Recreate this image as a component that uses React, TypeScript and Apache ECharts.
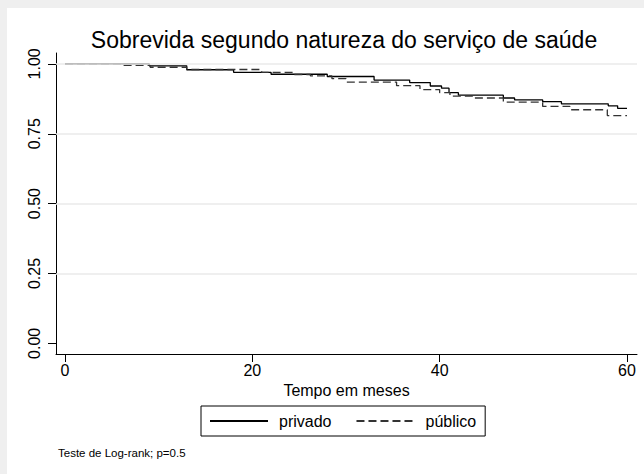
import React, { useEffect, useRef } from "react";
import * as echarts from "echarts";

// Kaplan-Meier step data (time in months, survival)
const privadoTimes = [0, 9.0, 13.0, 18.0, 22.0, 28.0, 33.0, 36.8, 39.0, 40.2, 41.0, 42.0, 46.8, 48.0, 51.0, 53.0, 58.0, 59.0, 60];
const privadoSurv = [1.0, 0.993, 0.979, 0.97, 0.963, 0.955, 0.942, 0.933, 0.921, 0.913, 0.897, 0.888, 0.878, 0.871, 0.865, 0.857, 0.85, 0.841, 0.841];

const publicoTimes = [0, 6.1, 9.1, 13.0, 21.0, 24.4, 26.2, 28.5, 30.0, 35.4, 37.9, 40.0, 41.1, 43.6, 46.8, 51.0, 53.9, 57.9, 60];
const publicoSurv = [1.0, 0.995, 0.988, 0.98, 0.97, 0.962, 0.957, 0.947, 0.935, 0.922, 0.908, 0.897, 0.885, 0.878, 0.863, 0.848, 0.836, 0.815, 0.815];

const xTicks = [0, 20, 40, 60];
const yTicks = [0, 0.25, 0.5, 0.75, 1.0];
const gridValues = [0.25, 0.5, 0.75, 1.0];

const seriesNames = ["privado", "público"];
const titleText = "Sobrevida segundo natureza do serviço de saúde";
const xName = "Tempo em meses";
const noteText = "Teste de Log-rank; p=0.5";

const FONT = "'Liberation Sans', Arial, sans-serif";

export default function App() {
  const ref = useRef<HTMLDivElement>(null);

  useEffect(() => {
    if (!ref.current) return;
    const chart = echarts.init(ref.current, null, { renderer: "svg" });
    const priv = privadoTimes.map((t, i) => [t, privadoSurv[i]]);
    const pub = publicoTimes.map((t, i) => [t, publicoSurv[i]]);

    chart.setOption({
      animation: false,
      textStyle: { fontFamily: FONT },
      grid: { left: 56, right: 7, top: 53, bottom: 120, containLabel: false },
      xAxis: {
        type: "value",
        min: -0.96,
        max: 61.07,
        name: xName,
        nameLocation: "middle",
        nameGap: 27,
        nameTextStyle: { fontSize: 16, color: "#000", fontFamily: FONT },
        axisLine: { show: true, onZero: false, lineStyle: { color: "#000", width: 1 } },
        axisTick: { show: true, length: 8, customValues: xTicks, lineStyle: { color: "#000" } },
        axisLabel: { customValues: xTicks, fontSize: 16, color: "#000", margin: 8, fontFamily: FONT },
        splitLine: { show: false },
      },
      yAxis: {
        type: "value",
        min: -0.038,
        max: 1.039,
        axisLine: { show: true, onZero: false, lineStyle: { color: "#000", width: 1 } },
        axisTick: { show: true, length: 8, customValues: yTicks, lineStyle: { color: "#000" } },
        axisLabel: {
          customValues: yTicks,
          rotate: 90,
          fontSize: 16,
          color: "#000",
          margin: 14,
          fontFamily: FONT,
          formatter: (v: number) => v.toFixed(2),
        },
        splitLine: { show: false },
      },
      legend: {
        data: seriesNames,
        left: 201,
        top: 406,
        orient: "horizontal",
        itemWidth: 58,
        itemHeight: 14,
        itemGap: 24,
        padding: [7, 9, 7, 8],
        borderColor: "#000",
        borderWidth: 1,
        backgroundColor: "#fff",
        itemStyle: { opacity: 0 },
        textStyle: { fontSize: 16, color: "#000", fontFamily: FONT, padding: [0, 0, 0, 6] },
      },
      graphic: [
        {
          type: "text",
          x: 344,
          y: 40,
          style: {
            text: titleText,
            fontSize: 23,
            fill: "#000",
            fontFamily: FONT,
            textAlign: "center",
            textVerticalAlign: "middle",
          },
        },
        {
          type: "text",
          x: 58,
          y: 453,
          style: {
            text: noteText,
            fontSize: 11.5,
            fill: "#000",
            fontFamily: FONT,
            textAlign: "left",
            textVerticalAlign: "middle",
          },
        },
      ],
      series: [
        {
          name: "grid",
          type: "line",
          data: [],
          z: 1,
          silent: true,
          markLine: {
            silent: true,
            symbol: "none",
            label: { show: false },
            lineStyle: { color: "#eaeaea", width: 1.5, type: "solid" },
            data: gridValues.map((v) => ({ yAxis: v })),
          },
        },
        {
          name: seriesNames[0],
          type: "line",
          step: "end",
          data: priv,
          showSymbol: false,
          symbol: "none",
          z: 3,
          lineStyle: { color: "#000", width: 1.3, type: "solid" },
          itemStyle: { color: "#000" },
        },
        {
          name: seriesNames[1],
          type: "line",
          step: "end",
          data: pub,
          showSymbol: false,
          symbol: "none",
          z: 3,
          lineStyle: { color: "#333", width: 1.3, type: [8, 4] },
          itemStyle: { color: "#333" },
        },
      ],
    });

    return () => chart.dispose();
  }, []);

  return (
    <div style={{ position: "fixed", left: 0, top: 0, width: 644, height: 474, background: "#efefef" }}>
      <div style={{ position: "absolute", left: 7, top: 8, width: 637, height: 466, background: "#fff" }} />
      <div ref={ref} style={{ position: "absolute", left: 0, top: 0, width: 644, height: 474 }} />
    </div>
  );
}
